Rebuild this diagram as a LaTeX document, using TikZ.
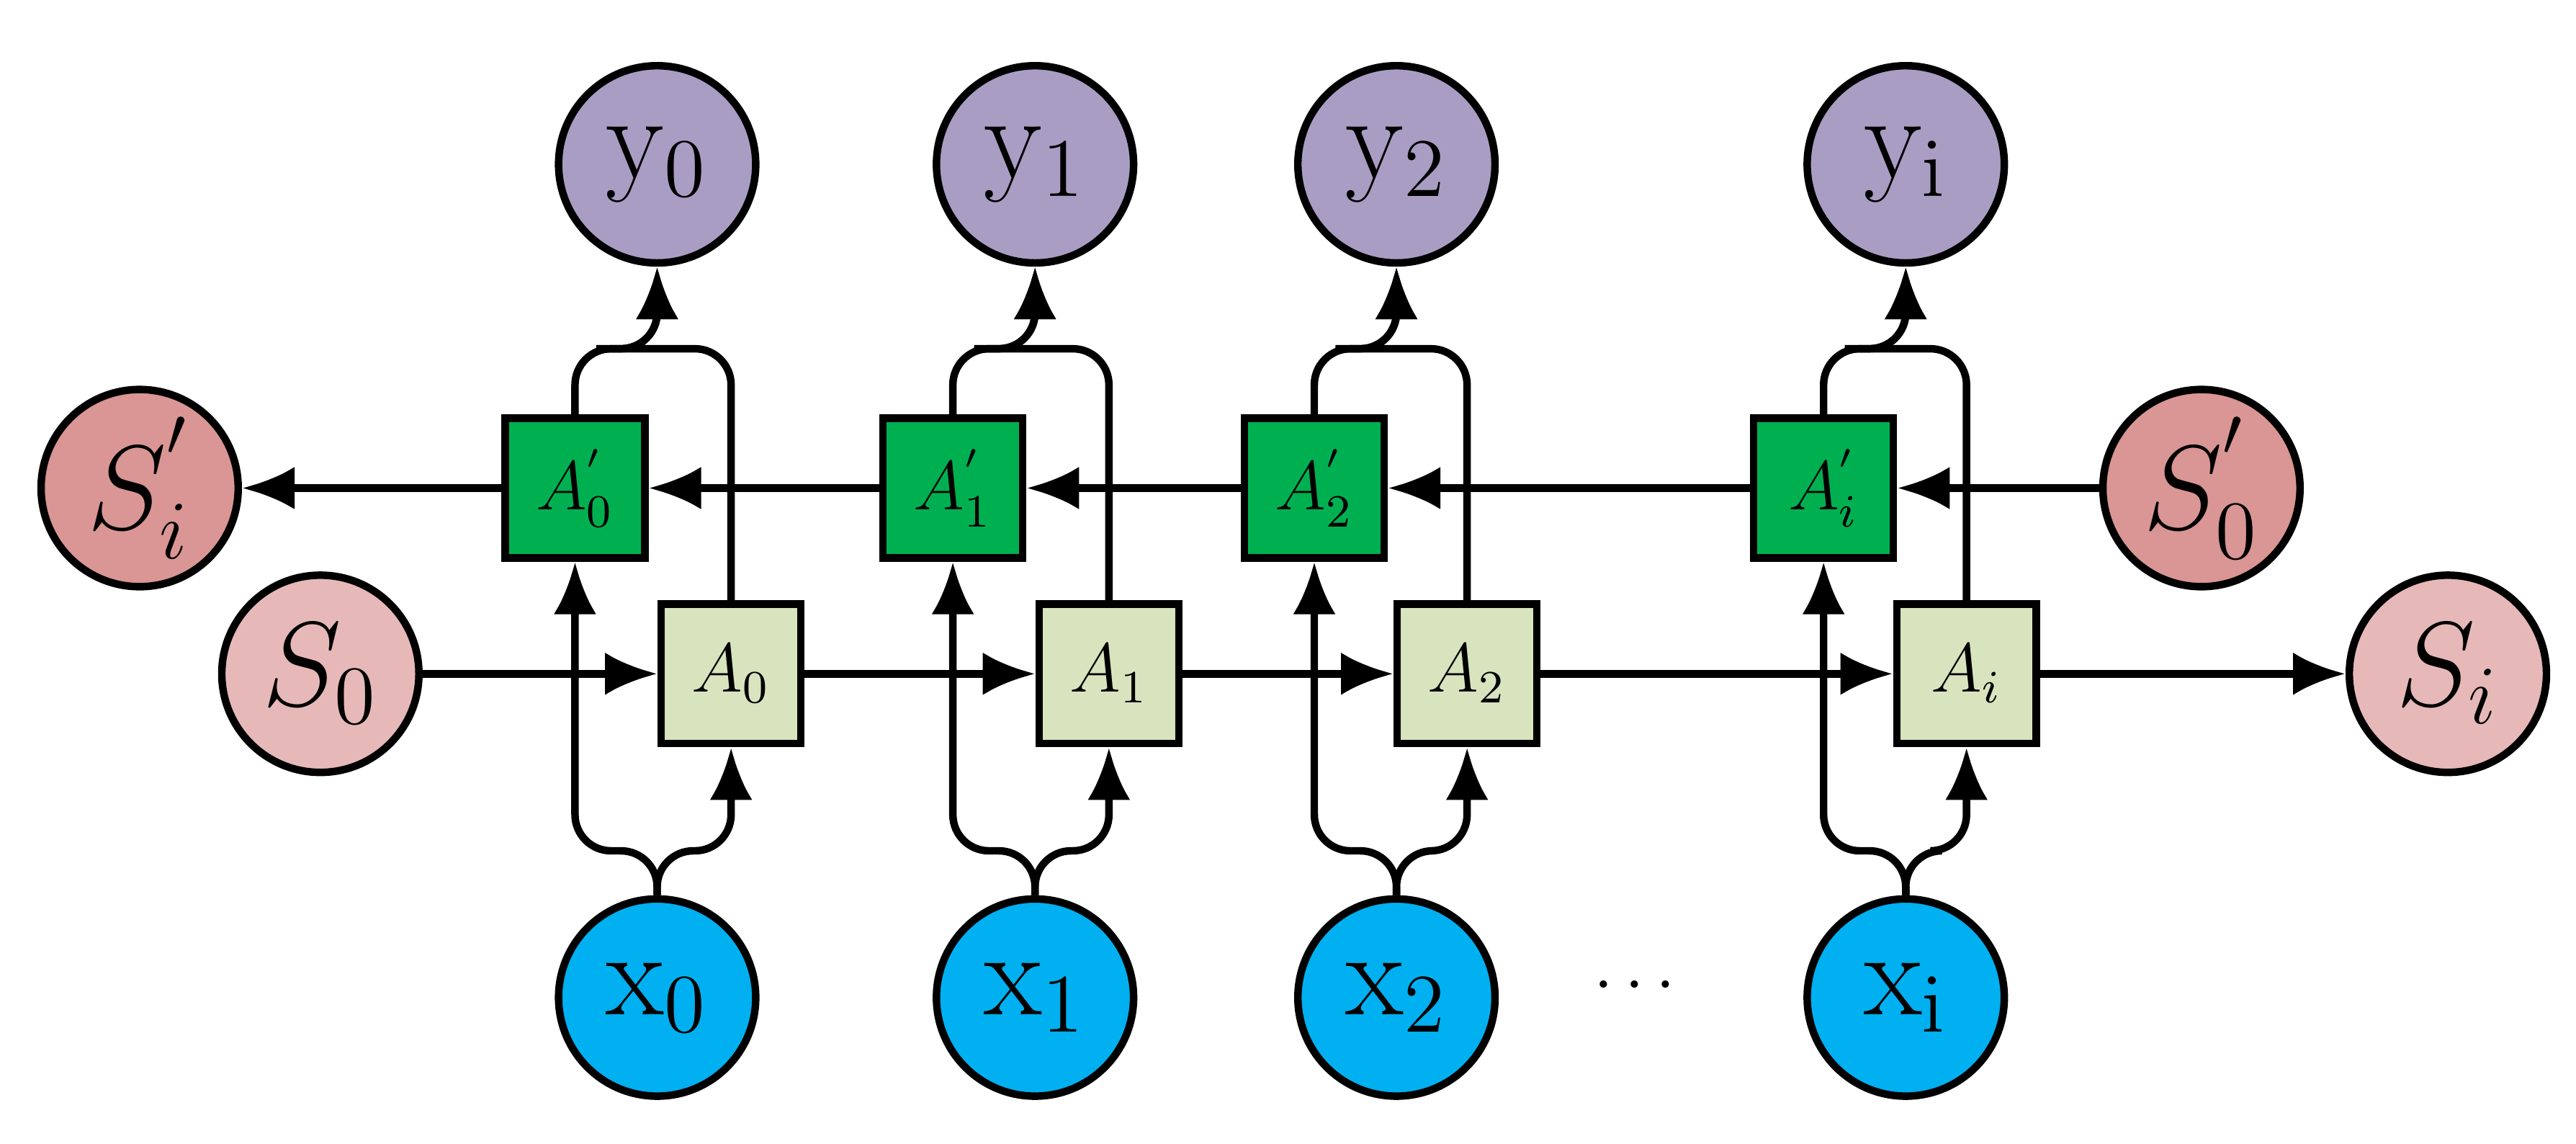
\documentclass[tikz,border=0pt]{standalone}
\usepackage{xcolor}
\usetikzlibrary{arrows.meta, positioning}
\definecolor{ycol}{RGB}{170,157,196}
\definecolor{xcol}{RGB}{0,176,240}
\definecolor{bcol}{RGB}{0,176,80}
\definecolor{fcol}{RGB}{216,228,190}
\definecolor{spcol}{RGB}{217,150,148}
\definecolor{scol}{RGB}{230,185,184}
\tikzset{
  circ/.style={circle, draw, line width=1.3pt, minimum size=1.2cm, inner sep=0pt, font=\huge},
  cell/.style={rectangle, draw, line width=1.3pt, minimum size=0.85cm, inner sep=0pt, font=\large},
  arr/.style={-{Latex[length=3.2mm, width=2.6mm]}, line width=1.3pt},
  link/.style={arr, rounded corners=0.22cm},
}
\begin{document}
\begin{tikzpicture}
  \useasboundingbox (0,0) rectangle (15.68,6.96);
  % Cells and inputs/outputs
  \foreach \n/\xc/\xb/\xf in {0/4.0/3.5/4.45, 1/6.3/5.8/6.75, 2/8.5/8.0/8.93, i/11.6/11.1/11.97} {
    \node[circ, fill=ycol] (y\n) at (\xc,5.96) {$\mathrm{y}_{\mathrm{\n}}$};
    \node[circ, fill=xcol] (x\n) at (\xc,0.89) {$\mathrm{x}_{\mathrm{\n}}$};
    \node[cell, fill=bcol] (b\n) at (\xb,3.99) {$A_{\n}^{'}$};
    \node[cell, fill=fcol] (f\n) at (\xf,2.86) {$A_{\n}$};
    \draw[link] (x\n.north) -- ++(0,0.27) -| (b\n.south);
    \draw[link] (x\n.north) -- ++(0,0.27) -| (f\n.south);
    \draw[link] (b\n.north) -- ++(0,0.40) -| (y\n.south);
    \draw[link] (f\n.north) |- ([yshift=0.40cm]b\n.north) -| (y\n.south);
  }
  \node[circ, fill=spcol] (spi) at (0.85,3.99) {$S_i^{'}$};
  \node[circ, fill=scol] (s0) at (1.95,2.86) {$S_0$};
  \node[circ, fill=spcol] (sp0) at (13.40,3.99) {$S_0^{'}$};
  \node[circ, fill=scol] (si) at (14.90,2.86) {$S_i$};
  \node[font=\large] (dots) at (9.95,0.96) {$\cdots$};

  % Recurrent links
  \draw[arr] (s0) -- (f0);
  \draw[arr] (f0) -- (f1);
  \draw[arr] (f1) -- (f2);
  \draw[arr] (f2) -- (fi);
  \draw[arr] (fi) -- (si);
  \draw[arr] (sp0) -- (bi);
  \draw[arr] (bi) -- (b2);
  \draw[arr] (b2) -- (b1);
  \draw[arr] (b1) -- (b0);
  \draw[arr] (b0) -- (spi);
\end{tikzpicture}
\end{document}
